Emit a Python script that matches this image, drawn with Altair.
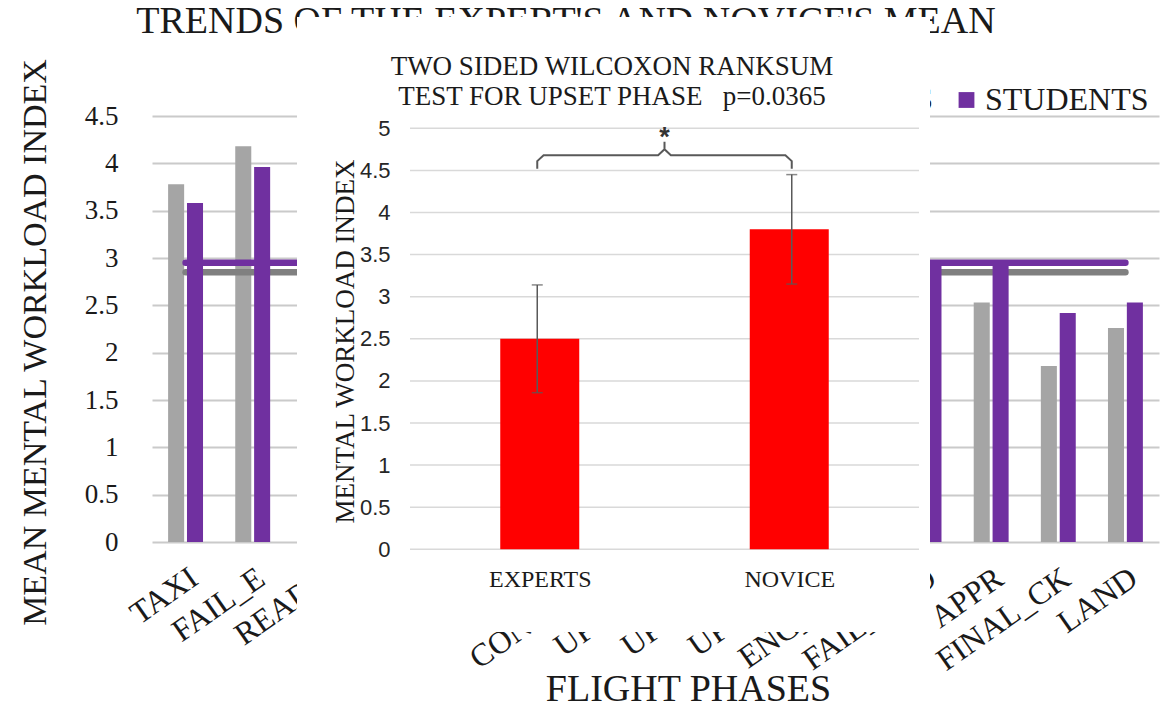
import json
import altair as alt
import pandas as pd

SERIF = "Liberation Serif, Times New Roman, serif"
SANS = "Liberation Sans Narrow, Liberation Sans, Arial, sans-serif"
INK = "#1a1a1a"

# ---------------- background chart data ----------------
phases = ["TAXI", "FAIL_E", "READY", "TO", "CLB", "CRZ", "CONTROL", "UPSET_1",
          "UPSET_2", "UPSET_3", "ENG_FAIL", "FAIL_HYD", "APPR", "FINAL_CK", "LAND"]
experts = [3.78, 4.18, 3.30, 2.60, 2.20, 1.90, 2.70, 2.50, 3.10, 2.90, 3.40, 3.20, 2.53, 1.86, 2.26]
students = [3.58, 3.96, 3.10, 2.50, 2.10, 2.00, 2.60, 3.80, 3.50, 3.30, 3.40, 2.95, 2.95, 2.42, 2.53]
series = ["EXPERTS", "STUDENTS"]
mean_levels = [2.85, 2.95]
bar_colors = ["#A5A5A5", "#7030A0"]
line_colors = ["#808080", "#7030A0"]
bg_ticks = [0, 0.5, 1, 1.5, 2, 2.5, 3, 3.5, 4, 4.5]
bg_title = ["TRENDS OF THE EXPERT'S AND NOVICE'S MEAN"]

# ---------------- inset chart data ----------------
inset_groups = ["EXPERTS", "NOVICE"]
inset_means = [2.5, 3.8]
inset_low = [1.86, 3.15]
inset_high = [3.14, 4.45]
inset_ticks = [0, 0.5, 1, 1.5, 2, 2.5, 3, 3.5, 4, 4.5, 5]
inset_title = ["TWO SIDED WILCOXON RANKSUM", "TEST FOR UPSET PHASE\u00a0\u00a0\u00a0p=0.0365"]
bracket_levels = [4.52, 4.68, 4.84]
star_label = ["*"]
star_level = [4.79]

# ---------------- tables ----------------
bars_df = pd.DataFrame({
    "phase": phases * 2,
    "series": [series[0]] * len(phases) + [series[1]] * len(phases),
    "value": experts + students,
})
mean_df = pd.DataFrame({"series": series, "level": mean_levels,
                        "start": [phases[0]] * 2, "end": [phases[-1]] * 2})
title_df = pd.DataFrame({"t": bg_title})
legend_df = pd.DataFrame({"series": series, "color": bar_colors})

inset_df = pd.DataFrame({"group": inset_groups, "mean": inset_means,
                         "low": inset_low, "high": inset_high})
inset_df["idx"] = list(range(1, len(inset_groups) + 1))
grid_df = pd.DataFrame({"t": inset_ticks})

left_i, right_i = 1, len(inset_groups)
mid_i = (left_i + right_i) / 2
c, d = 0.025, 0.07
y0, y1, y2 = bracket_levels
bracket_pts = [(left_i, y0), (left_i, y1 - d), (left_i + c, y1), (mid_i - c, y1),
               (mid_i, y1 + d), (mid_i, y2), (mid_i, y1 + d), (mid_i + c, y1),
               (right_i - c, y1), (right_i, y1 - d), (right_i, y0)]
bracket_df = pd.DataFrame({"bx": [p[0] for p in bracket_pts],
                           "by": [p[1] for p in bracket_pts],
                           "o": list(range(len(bracket_pts)))})
star_df = pd.DataFrame({"sx": [mid_i], "sy": star_level, "s": star_label})

# ---------------- background scales / axes ----------------
bg_x_scale = alt.Scale(domain=phases, paddingInner=0.48, paddingOuter=0.24)
bg_y_scale = alt.Scale(domain=[0, 4.5], nice=False, zero=False)
off_scale = alt.Scale(domain=series, paddingInner=0.15, paddingOuter=0)

x_axis = alt.Axis(orient="bottom", title="FLIGHT PHASES", labelAngle=-35, labelFont=SERIF,
                  labelFontSize=32, labelColor=INK, labelPadding=20, ticks=False, tickSize=0,
                  domain=False, grid=False, labelOverlap=False, titleFont=SERIF,
                  titleFontSize=38, titleFontWeight="normal", titleColor=INK, titleX=536,
                  titleY=158, titleBaseline="alphabetic", titleAlign="center", zindex=0)
y_axis = alt.Axis(orient="left", title="MEAN MENTAL WORKLOAD INDEX", values=bg_ticks,
                  format="~g", grid=True, gridColor="#CACACA", gridWidth=2, ticks=False,
                  tickSize=0, domain=False, labelFont=SERIF, labelFontSize=27, labelColor=INK,
                  labelPadding=34, titleFont=SERIF, titleFontSize=34, titleFontWeight="normal",
                  titleColor=INK, titleX=-107, titleY=226, titleAlign="center",
                  titleBaseline="alphabetic", zindex=0)

gray_bars = alt.Chart(bars_df).transform_filter(alt.datum.series == series[0]).mark_bar(
    color=bar_colors[0]).encode(
    x=alt.X("phase:N", sort=phases, scale=bg_x_scale, axis=x_axis),
    xOffset=alt.XOffset("series:N", scale=off_scale),
    y=alt.Y("value:Q", scale=bg_y_scale, axis=y_axis),
)
purple_bars = alt.Chart(bars_df).transform_filter(alt.datum.series == series[1]).mark_bar(
    color=bar_colors[1]).encode(
    x=alt.X("phase:N", sort=phases, scale=bg_x_scale, axis=None),
    xOffset=alt.XOffset("series:N", scale=off_scale),
    y=alt.Y("value:Q", scale=bg_y_scale, axis=None),
)


def mean_rule(i):
    return alt.Chart(mean_df).transform_filter(alt.datum.series == series[i]).mark_rule(
        color=line_colors[i], strokeWidth=6.5, strokeCap="round").encode(
        x=alt.X("start:N", scale=bg_x_scale, axis=None),
        x2=alt.X2("end"),
        y=alt.Y("level:Q", scale=bg_y_scale, axis=None),
    )


title_text = alt.Chart(title_df).mark_text(
    font=SERIF, fontSize=38, color=INK, align="center", baseline="alphabetic").encode(
    x=alt.value(414), y=alt.value(-83), text="t:N")

leg_sq_exp = alt.Chart(legend_df).transform_filter(alt.datum.series == series[0]).mark_square(
    size=250, opacity=1).encode(x=alt.value(655), y=alt.value(-16),
                                color=alt.Color("color:N", scale=None))
leg_tx_exp = alt.Chart(legend_df).transform_filter(alt.datum.series == series[0]).mark_text(
    font=SERIF, fontSize=32, color=INK, align="right", baseline="alphabetic").encode(
    x=alt.value(781), y=alt.value(-6), text="series:N")
leg_sq_stu = alt.Chart(legend_df).transform_filter(alt.datum.series == series[1]).mark_square(
    size=250, opacity=1).encode(x=alt.value(814.5), y=alt.value(-16),
                                color=alt.Color("color:N", scale=None))
leg_tx_stu = alt.Chart(legend_df).transform_filter(alt.datum.series == series[1]).mark_text(
    font=SERIF, fontSize=32, color=INK, align="left", baseline="alphabetic").encode(
    x=alt.value(833), y=alt.value(-6), text="series:N")

# ---------------- inset scales / axes ----------------
X_DOM = [0.5, len(inset_groups) + 0.5]
in_x = alt.Scale(domain=X_DOM, range=[258, 767], nice=False, zero=False)
in_y = alt.Scale(domain=[0, 5], range=[433.3, 12.3], nice=False, zero=False)
label_expr = json.dumps(inset_groups) + "[datum.value - 1]"

in_x_axis = alt.Axis(values=list(inset_df["idx"]), labelExpr=label_expr, orient="bottom",
                     offset=7.3, grid=False, ticks=False, tickSize=0, domain=False,
                     labelFont=SERIF, labelFontSize=24, labelColor=INK, labelPadding=18,
                     labelAngle=0, labelFlush=False, title=None, zindex=1)
in_y_axis = alt.Axis(values=inset_ticks, format="~g", orient="left", offset=-258,
                     grid=False, ticks=False, tickSize=0, domain=False, labelFont=SANS,
                     labelFontSize=22, labelColor="#262626", labelPadding=20,
                     title="MENTAL WORKLOAD INDEX", titleFont=SERIF, titleFontSize=27,
                     titleFontWeight="normal", titleColor=INK, titleX=-57, titleY=225,
                     titleAlign="center", titleBaseline="alphabetic", zindex=1)

panel = alt.Chart(pd.DataFrame({"p": [0]})).mark_rect(color="white").encode(
    x=alt.value(145), x2=alt.value(778), y=alt.value(-99), y2=alt.value(516))

in_grid = alt.Chart(grid_df).mark_rule(color="#D9D9D9", strokeWidth=1.5).encode(
    y=alt.Y("t:Q", scale=in_y, axis=None),
    x=alt.X(datum=X_DOM[0], type="quantitative", scale=in_x, axis=None),
    x2=alt.X2(datum=X_DOM[1]),
)

red_bars = alt.Chart(inset_df).mark_bar(color="#FF0000", size=79, orient="vertical").encode(
    x=alt.X("idx:Q", scale=in_x, axis=in_x_axis),
    y=alt.Y("mean:Q", scale=in_y, axis=in_y_axis),
    y2=alt.Y2(datum=0),
)

err_rule = alt.Chart(inset_df).mark_rule(color="#595959", strokeWidth=1.5).encode(
    x=alt.X("idx:Q", scale=in_x, axis=None),
    y=alt.Y("low:Q", scale=in_y, axis=None),
    y2="high:Q",
)
err_caps = alt.Chart(inset_df).transform_fold(["low", "high"], as_=["k", "v"]).mark_tick(
    color="#595959", orient="horizontal", size=11, thickness=1.5).encode(
    x=alt.X("idx:Q", scale=in_x, axis=None),
    y=alt.Y("v:Q", scale=in_y, axis=None),
)

bracket = alt.Chart(bracket_df).mark_line(color="#595959", strokeWidth=2).encode(
    x=alt.X("bx:Q", scale=in_x, axis=None),
    y=alt.Y("by:Q", scale=in_y, axis=None),
    order="o:Q",
)
star = alt.Chart(star_df).mark_text(font=SANS, fontSize=27, fontWeight="bold", color="#333333",
                                    align="center", baseline="alphabetic").encode(
    x=alt.X("sx:Q", scale=in_x, axis=None),
    y=alt.Y("sy:Q", scale=in_y, axis=None),
    text="s:N",
)

in_title = alt.Chart(pd.DataFrame({"p": [0]})).mark_text(
    text=inset_title, font=SERIF, fontSize=27, color=INK, align="center",
    baseline="alphabetic", lineHeight=30).encode(x=alt.value(460), y=alt.value(-41))

chart = alt.layer(
    gray_bars, mean_rule(0), purple_bars, mean_rule(1), title_text,
    leg_sq_exp, leg_tx_exp, leg_sq_stu, leg_tx_stu,
    panel, in_grid, red_bars, err_rule, err_caps, bracket, star, in_title,
).resolve_scale(
    x="independent", y="independent", xOffset="independent"
).resolve_axis(
    x="independent", y="independent"
).properties(
    width=1007, height=426,
    autosize=alt.AutoSizeParams(type="none"),
    padding={"left": 144, "top": 108, "right": 1, "bottom": 162},
    background="white",
).configure_view(stroke=None)

chart.save("out.html", embed_options={"renderer": "svg", "actions": False})
